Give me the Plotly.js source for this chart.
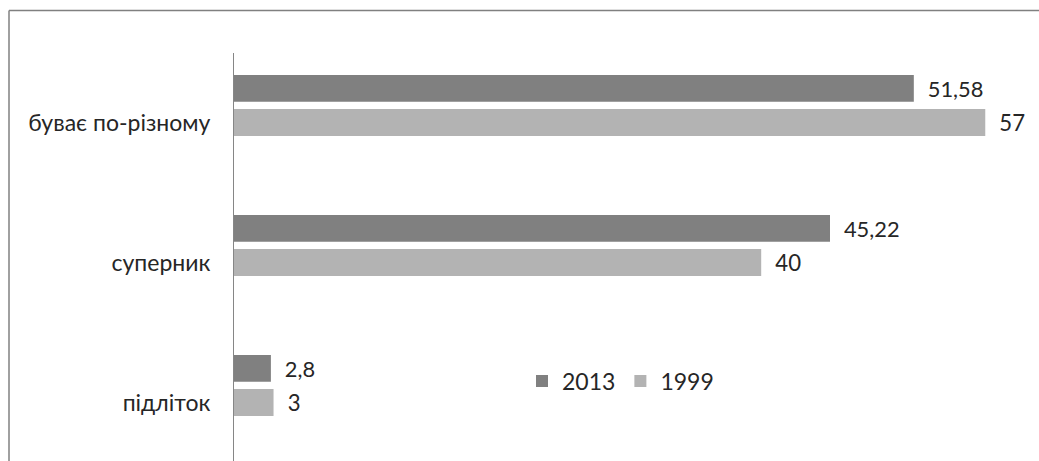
<!DOCTYPE html>
<html>
<head>
<meta charset="utf-8">
<script src="https://cdn.plot.ly/plotly-3.0.1.min.js"></script>
<style>html,body{margin:0;padding:0;background:#fff;}#chart{width:1039px;height:461px;}</style>
</head>
<body>
<div id="chart"></div>
<script>
// Categories (bottom to top, as drawn on the y axis)
const categories = ['підліток', 'суперник', 'буває по-різному'];
// Series values
const series2013 = [2.8, 45.22, 51.58];
const series1999 = [3, 40, 57];
const seriesNames = ['2013', '1999'];

const fmt = v => String(v).replace('.', ',');

const W = 1039, H = 461;
const L = 234, R = 41, T = 53, B = 0;
const pw = W - L - R, ph = H - T - B;
const px2x = px => (px - L) / pw;
const px2y = py => (H - B - py) / ph;

const FONT = 'Lato, "Open Sans", sans-serif';
const FS = 23;
const TXT = '#262626';

const traces = [
  {
    type: 'bar', orientation: 'h', name: seriesNames[0],
    y: categories, x: series2013,
    text: series2013.map(fmt), texttemplate: '\u2002%{text}',
    textposition: 'outside', cliponaxis: false,
    textfont: {family: FONT, size: FS, color: TXT},
    marker: {color: '#808080', line: {width: 0}},
    offset: 0.152, width: 0.19,
    legendrank: 1, hoverinfo: 'x+name'
  },
  {
    type: 'bar', orientation: 'h', name: seriesNames[1],
    y: categories, x: series1999,
    text: series1999.map(fmt), texttemplate: '\u2002%{text}',
    textposition: 'outside', cliponaxis: false,
    textfont: {family: FONT, size: FS, color: TXT},
    marker: {color: '#b3b3b3', line: {width: 0}},
    offset: -0.093, width: 0.193,
    legendrank: 2, hoverinfo: 'x+name'
  }
];

const layout = {
  width: W, height: H,
  margin: {l: L, r: R, t: T, b: B, pad: 0},
  paper_bgcolor: '#ffffff', plot_bgcolor: '#ffffff',
  font: {family: FONT, size: FS, color: TXT},
  showlegend: true,
  legend: {
    orientation: 'h', x: px2x(522), xanchor: 'left',
    y: px2y(381), yanchor: 'middle',
    font: {family: FONT, size: FS, color: TXT},
    bgcolor: 'rgba(0,0,0,0)', traceorder: 'normal'
  },
  xaxis: {
    range: [0, pw / 13.18], showgrid: false, zeroline: false,
    showline: false, showticklabels: false, ticks: '', fixedrange: true
  },
  yaxis: {
    type: 'category', categoryorder: 'array', categoryarray: categories,
    range: [2.5 - ph / 140, 2.5],
    showgrid: false, zeroline: false, showline: true,
    linecolor: '#868686', linewidth: 1, ticks: '', ticklabelstandoff: 18,
    tickfont: {family: FONT, size: FS, color: TXT}, fixedrange: true
  },
  shapes: [
    {type: 'line', xref: 'paper', yref: 'paper', x0: px2x(9), x1: px2x(9), y0: px2y(10.5), y1: px2y(470), line: {color: '#808080', width: 1.5}},
    {type: 'line', xref: 'paper', yref: 'paper', x0: px2x(9), x1: px2x(1045), y0: px2y(10.5), y1: px2y(10.5), line: {color: '#808080', width: 1.5}}
  ]
};

Plotly.newPlot('chart', traces, layout, {displayModeBar: false, staticPlot: true});
</script>
</body>
</html>
